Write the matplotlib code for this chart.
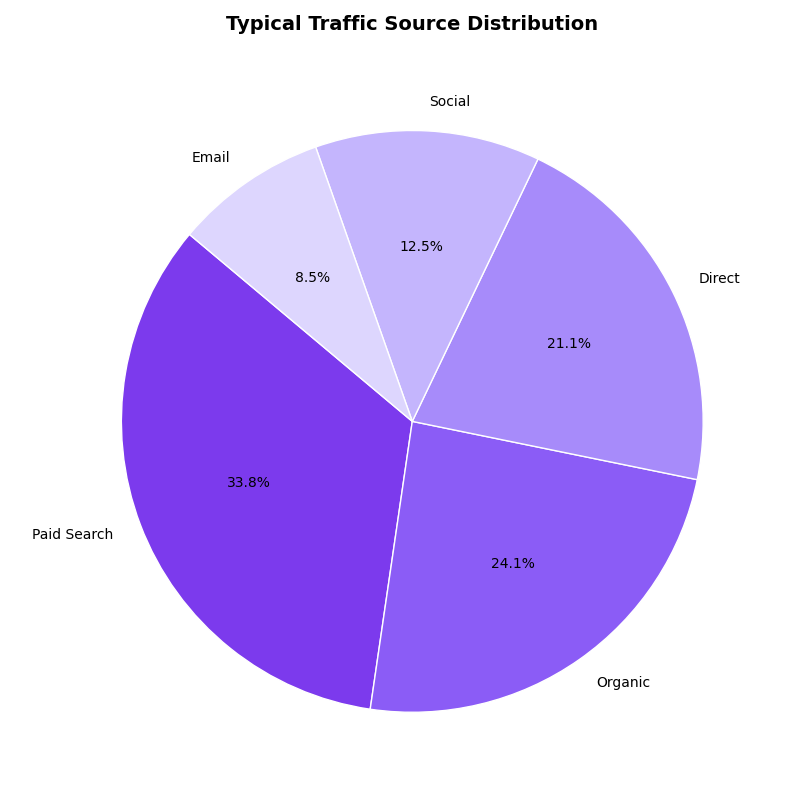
import matplotlib
matplotlib.use("Agg")
import matplotlib.pyplot as plt

sources = ["Paid Search", "Organic", "Direct", "Social", "Email"]
shares = [33.8, 24.1, 21.1, 12.5, 8.5]
colors = ["#7c3aed", "#8b5cf6", "#a78bfa", "#c4b5fd", "#ddd6fe"]

fig, ax = plt.subplots(figsize=(8, 8), dpi=100)
ax.pie(shares, labels=sources, colors=colors, autopct="%1.1f%%",
       startangle=140, wedgeprops={"edgecolor": "white", "linewidth": 1},
       textprops={"fontsize": 10})
ax.set_title("Typical Traffic Source Distribution", fontsize=14,
             fontweight="bold", pad=20)
plt.tight_layout()
fig.savefig("out.png")
